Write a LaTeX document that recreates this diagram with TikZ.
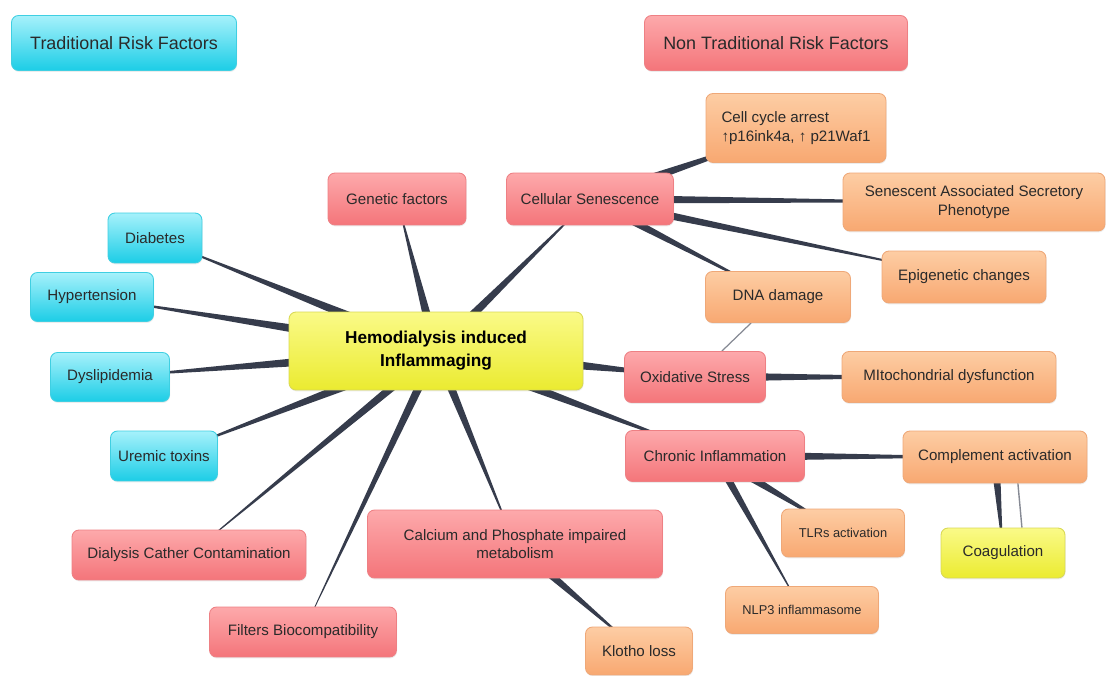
\documentclass[tikz,border=0pt]{standalone}
\usepackage{fontspec}
\setmainfont{Liberation Sans}
\usetikzlibrary{calc,backgrounds,shadows}
\definecolor{cyantop}{HTML}{A6F1FB}
\definecolor{cyanbot}{HTML}{1CCDE6}
\definecolor{cyanline}{HTML}{3FCFE2}
\definecolor{redtop}{HTML}{FDA9AB}
\definecolor{redbot}{HTML}{F4757A}
\definecolor{redline}{HTML}{EE8084}
\definecolor{orgtop}{HTML}{FDCDA4}
\definecolor{orgbot}{HTML}{F8A871}
\definecolor{orgline}{HTML}{EFA878}
\definecolor{yeltop}{HTML}{FAFA88}
\definecolor{yelbot}{HTML}{EBEB30}
\definecolor{yelline}{HTML}{D9D955}
\definecolor{linkcol}{HTML}{363C4C}
\definecolor{txt}{HTML}{2A2A2A}
\newcommand{\taper}[3]{\fill[linkcol] ($(#1)!#3!90:(#2)$) -- ($(#1)!#3!-90:(#2)$) -- (#2.center) -- cycle;}
\begin{document}
\begin{tikzpicture}[x=0.02cm,y=-0.02cm,
  box/.style={rounded corners=4pt,line width=0.5pt,inner sep=2pt,text=txt,
    font=\fontsize{8.6}{10.5}\selectfont,
    drop shadow={shadow xshift=0.3pt,shadow yshift=-0.8pt,opacity=0.15}},
  cyanbox/.style={box,draw=cyanline,top color=cyantop,bottom color=cyanbot},
  redbox/.style={box,draw=redline,top color=redtop,bottom color=redbot},
  orgbox/.style={box,draw=orgline,top color=orgtop,bottom color=orgbot},
  yelbox/.style={box,draw=yelline,top color=yeltop,bottom color=yelbot},
  head/.style={font=\fontsize{10.2}{12}\selectfont},
  small/.style={font=\fontsize{7.3}{9}\selectfont}]
\node[cyanbox,head,minimum width=4.5cm,minimum height=1.1cm](T0) at (124,43){Traditional Risk Factors};
\node[redbox,head,minimum width=5.26cm,minimum height=1.1cm](N0) at (776,43){Non Traditional Risk Factors};

\node[yelbox,minimum width=5.88cm,minimum height=1.56cm,align=center,
  font=\bfseries\fontsize{9.8}{13}\selectfont,text=black](H) at (436,351){Hemodialysis induced\\Inflammaging};

\node[cyanbox,minimum width=1.88cm,minimum height=1cm](T1) at (155,238){Diabetes};
\node[cyanbox,minimum width=2.46cm,minimum height=0.98cm](T2) at (92,297){Hypertension};
\node[cyanbox,minimum width=2.38cm,minimum height=0.98cm](T3) at (110,377){Dyslipidemia};
\node[cyanbox,minimum width=2.14cm,minimum height=1cm](T4) at (164,456){Uremic toxins};

\node[redbox,minimum width=2.76cm,minimum height=1.04cm](R1) at (397,199){Genetic factors};
\node[redbox,minimum width=3.34cm,minimum height=1.04cm](R2) at (590,199){Cellular Senescence};
\node[redbox,minimum width=2.82cm,minimum height=1.02cm](R3) at (695,377){Oxidative Stress};
\node[redbox,minimum width=3.58cm,minimum height=1.02cm](R4) at (715,456){Chronic Inflammation};
\node[redbox,minimum width=5.9cm,minimum height=1.36cm,align=center](R5) at (515,544){Calcium and Phosphate impaired\\metabolism};
\node[redbox,minimum width=4.68cm,minimum height=1cm](R6) at (189,555){Dialysis Cather Contamination};
\node[redbox,minimum width=3.74cm,minimum height=1cm](R7) at (303,632){Filters Biocompatibility};

\node[orgbox,minimum width=3.6cm,minimum height=1.38cm,align=left](O1) at (796,128){Cell cycle arrest\\↑p16ink4a, ↑ p21Waf1};
\node[orgbox,minimum width=5.24cm,minimum height=1.16cm,align=center](O2) at (974,202){Senescent Associated Secretory\\Phenotype};
\node[orgbox,minimum width=3.28cm,minimum height=1.04cm](O3) at (964,277){Epigenetic changes};
\node[orgbox,minimum width=2.9cm,minimum height=1.02cm](O4) at (778,297){DNA damage};
\node[orgbox,minimum width=4.28cm,minimum height=1.02cm](O5) at (949,377){MItochondrial dysfunction};
\node[orgbox,minimum width=3.68cm,minimum height=1.04cm](O6) at (995,457){Complement activation};
\node[orgbox,small,minimum width=2.46cm,minimum height=0.96cm](O7) at (843,533){TLRs activation};
\node[orgbox,small,minimum width=3.06cm,minimum height=0.94cm](O8) at (802,610){NLP3 inflammasome};
\node[orgbox,minimum width=2.14cm,minimum height=0.96cm](O9) at (639,651){Klotho loss};
\node[yelbox,minimum width=2.48cm,minimum height=1cm](Y1) at (1003,553){Coagulation};

\begin{scope}[on background layer]
\fill[white] (0,0) rectangle (1107,675);
\taper{H}{T1}{3.4pt}
\taper{H}{T2}{3.8pt}
\taper{H}{T3}{4pt}
\taper{H}{T4}{3.5pt}
\taper{H}{R6}{2.7pt}
\taper{H}{R7}{2.6pt}
\taper{H}{R5}{2.75pt}
\taper{H}{R4}{3.5pt}
\taper{H}{R3}{5pt}
\taper{H}{R1}{3pt}
\taper{H}{R2}{3pt}

\taper{R2}{O1}{3.2pt}
\taper{R2}{O2}{2.6pt}
\taper{R2}{O3}{2.6pt}
\taper{R2}{O4}{2.7pt}
\draw[linkcol!60,line width=0.7pt](O4)--(R3);
\taper{R3}{O5}{2.8pt}

\taper{R4}{O6}{2.9pt}
\taper{R4}{O7}{3pt}
\taper{R4}{O8}{2.4pt}
\taper{O6}{Y1}{2.7pt}
\draw[linkcol!60,line width=0.8pt]([xshift=23pt*0.567]O6.south)--([xshift=19pt*0.567]Y1.north);

\taper{R5}{O9}{2.9pt}
\end{scope}
\path[use as bounding box](0,0) rectangle (1107,675);
\end{tikzpicture}
\end{document}
